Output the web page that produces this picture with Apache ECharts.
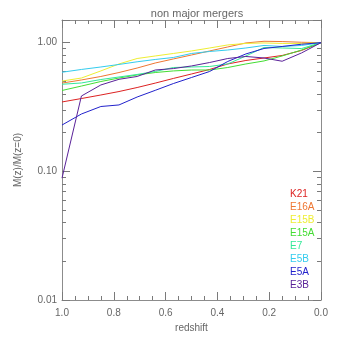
<!DOCTYPE html>
<html>
<head>
<meta charset="utf-8">
<script src="https://cdn.jsdelivr.net/npm/echarts@6/dist/echarts.min.js"></script>
<style>
html,body{margin:0;padding:0;background:#fff;}
#c{width:340px;height:340px;}
</style>
</head>
<body>
<div id="c"></div>
<script>
var redshift = [1.0, 0.925, 0.85, 0.78, 0.71, 0.64, 0.57, 0.5, 0.43, 0.36, 0.29, 0.22, 0.15, 0.075, 0.0];
var K21  = [0.346, 0.368, 0.392, 0.417, 0.448, 0.485, 0.527, 0.571, 0.619, 0.683, 0.727, 0.760, 0.795, 0.870, 1.0];
var E16A = [0.485, 0.513, 0.546, 0.586, 0.635, 0.695, 0.747, 0.802, 0.862, 0.926, 0.995, 1.025, 1.020, 1.007, 1.0];
var E15B = [0.503, 0.531, 0.603, 0.683, 0.753, 0.788, 0.824, 0.862, 0.909, 0.960, 0.986, 0.995, 0.986, 0.986, 1.0];
var E15A = [0.425, 0.460, 0.499, 0.531, 0.561, 0.586, 0.603, 0.613, 0.613, 0.641, 0.683, 0.721, 0.788, 0.877, 1.0];
var E7   = [0.475, 0.486, 0.517, 0.541, 0.566, 0.597, 0.641, 0.647, 0.653, 0.683, 0.788, 0.918, 0.909, 0.900, 1.0];
var E5B  = [0.589, 0.619, 0.647, 0.677, 0.710, 0.740, 0.767, 0.824, 0.854, 0.877, 0.909, 0.951, 0.934, 0.951, 1.0];
var E5A  = [0.229, 0.279, 0.319, 0.328, 0.378, 0.426, 0.481, 0.536, 0.597, 0.714, 0.817, 0.901, 0.934, 0.972, 1.0];
var E3B  = [0.0885, 0.385, 0.469, 0.519, 0.546, 0.613, 0.629, 0.659, 0.701, 0.753, 0.781, 0.760, 0.717, 0.832, 1.0];

var seriesNames = ['K21', 'E16A', 'E15B', 'E15A', 'E7', 'E5B', 'E5A', 'E3B'];
var seriesValues = [K21, E16A, E15B, E15A, E7, E5B, E5A, E3B];
var seriesColors = ['#dd2222', '#ee7733', '#eeee33', '#44dd33', '#33e899', '#33ccee', '#2222cc', '#5a2299'];
var xTicks = [1.0, 0.8, 0.6, 0.4, 0.2, 0.0];
var yTicks = [0.01, 0.10, 1.00];

var axisColor = '#8c8c8c';
var tickColor = '#7a7a7a';
var textColor = '#666666';
var fontFam = 'Liberation Sans';

function xAxisDef(pos) {
  return {
    type: 'value', min: 0, max: 1, interval: 0.2, inverse: true, position: pos,
    axisLine: {show: true, onZero: false, lineStyle: {color: axisColor, width: 1}},
    axisTick: {show: true, inside: true, length: 8, lineStyle: {color: tickColor, width: 1}},
    minorTick: {show: true, splitNumber: 4, length: 4, lineStyle: {color: tickColor, width: 1}},
    splitLine: {show: false},
    axisLabel: {show: pos === 'bottom', color: textColor, fontFamily: fontFam, fontSize: 10, margin: 8,
      formatter: function (v) { return xTicks.some(function (t) { return Math.abs(t - v) < 1e-6; }) ? v.toFixed(1) : ''; }},
    name: pos === 'bottom' ? 'redshift' : '', nameLocation: 'middle', nameGap: 23,
    nameTextStyle: {color: textColor, fontFamily: fontFam, fontSize: 10}
  };
}
function yAxisDef(pos) {
  return {
    type: 'log', logBase: 10, min: 0.01, max: 1.5, position: pos,
    axisLine: {show: true, onZero: false, lineStyle: {color: axisColor, width: 1}},
    axisTick: {show: true, inside: true, length: 8, lineStyle: {color: tickColor, width: 1}},
    minorTick: {show: true, splitNumber: 9, length: 4, lineStyle: {color: tickColor, width: 1}},
    splitLine: {show: false},
    axisLabel: {show: pos === 'left', color: textColor, fontFamily: fontFam, fontSize: 10, margin: 5,
      formatter: function (v) { return yTicks.some(function (t) { return Math.abs(t - v) / t < 1e-6; }) ? v.toFixed(2) : ''; }},
    name: pos === 'left' ? 'M(z)/M(z=0)' : '', nameLocation: 'middle', nameGap: 39, nameRotate: 90,
    nameTextStyle: {color: textColor, fontFamily: fontFam, fontSize: 10}
  };
}

var series = seriesNames.map(function (n, i) {
  return {
    name: n, type: 'line', xAxisIndex: 0, yAxisIndex: 0,
    symbol: 'none', smooth: false,
    lineStyle: {width: 1, color: seriesColors[i]},
    itemStyle: {color: seriesColors[i]},
    data: redshift.map(function (z, k) { return [z, seriesValues[i][k]]; })
  };
});

var chart = echarts.init(document.getElementById('c'), null, {renderer: 'canvas'});
chart.setOption({
  animation: false,
  backgroundColor: '#ffffff',
  title: {text: 'non major mergers', left: 192, top: 3, textAlign: 'center',
    textStyle: {color: textColor, fontFamily: fontFam, fontSize: 11, fontWeight: 'normal'}},
  grid: {left: 62, right: 19, top: 20, bottom: 40, containLabel: false},
  legend: {
    orient: 'vertical', left: 280, top: 184, icon: 'none', itemWidth: 0, itemHeight: 10, itemGap: 3,
    selectedMode: false,
    data: seriesNames.map(function (n, i) {
      return {name: n, textStyle: {color: seriesColors[i], fontFamily: fontFam, fontSize: 10}};
    })
  },
  xAxis: [xAxisDef('bottom'), xAxisDef('top')],
  yAxis: [yAxisDef('left'), yAxisDef('right')],
  series: series
});
</script>
</body>
</html>
